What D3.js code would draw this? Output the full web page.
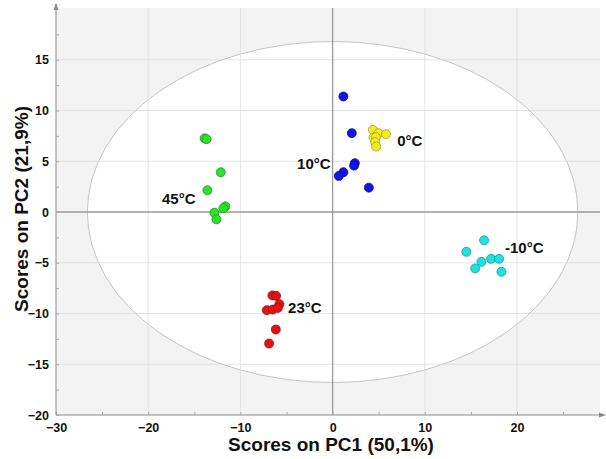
<!DOCTYPE html>
<html><head><meta charset="utf-8">
<script src="https://cdn.jsdelivr.net/npm/d3@7"></script>
<style>
html,body{margin:0;padding:0;background:#fff;}
svg{display:block;font-family:"Liberation Sans",Arial,sans-serif;}
</style></head>
<body><svg id="c" width="606" height="459"></svg>
<script>
const groups = ["45°C","23°C","10°C","0°C","-10°C"];
const colors = ["#2ee02e","#e01414","#1414e6","#f2ee10","#22e0e0"];
const strokes = ["#1c9a1c","#a00c0c","#0c0c9a","#9a9a50","#169a9a"];
const pc1_45 = [-13.88,-13.67,-12.13,-13.58,-11.63,-11.84,-12.82,-12.6];
const pc2_45 = [7.26,7.18,3.92,2.14,0.56,0.37,-0.07,-0.72];
const pc1_23 = [-6.53,-6.13,-5.77,-7.14,-6.49,-5.94,-6.16,-6.89];
const pc2_23 = [-8.22,-8.26,-9.08,-9.67,-9.61,-9.45,-11.58,-12.96];
const pc1_10 = [1.17,2.08,2.41,2.33,1.17,0.67,3.93];
const pc2_10 = [11.38,7.77,4.81,4.57,3.92,3.55,2.4];
const pc1_0 = [4.36,4.97,5.8,4.43,4.69,4.61,4.72];
const pc2_0 = [8.09,7.77,7.67,7.33,7.37,6.88,6.45];
const pc1_m10 = [16.43,14.51,16.14,17.19,18.06,15.46,18.31];
const pc2_m10 = [-2.79,-3.92,-4.91,-4.61,-4.61,-5.56,-5.89];
const labelX = [-18.5,-4.83,-3.85,7.0,18.7];
const labelY = [0.74,-9.97,4.2,6.47,-4.0];
const xTicks = [-30,-20,-10,0,10,20];
const yTicks = [-20,-15,-10,-5,0,5,10,15];
const ellipseR = [26.6,16.8];
const xTitle = "Scores on PC1 (50,1%)";
const yTitle = "Scores on PC2 (21,9%)";

const svg = d3.select("#c");
const x = d3.scaleLinear().domain([-30,29]).range([56,600]);
const y = d3.scaleLinear().domain([-20,20.1]).range([415,8]);

svg.append("rect").attr("x",x(-30)).attr("y",y(20.1)).attr("width",x(29)-x(-30)).attr("height",y(-20)-y(20.1)).attr("fill","#f3f3f3");
svg.append("ellipse").attr("cx",x(0)).attr("cy",y(0))
  .attr("rx",x(ellipseR[0])-x(0)).attr("ry",y(0)-y(ellipseR[1]))
  .attr("fill","#fff").attr("stroke","#c4c4c4").attr("stroke-width",1);
const gy = [-15,-10,-5,5,10,15];
svg.append("g").selectAll("line").data(gy).join("line")
  .attr("x1",x(-30)).attr("x2",x(29)).attr("y1",d=>y(d)).attr("y2",d=>y(d))
  .attr("stroke","#dcdcdc").attr("stroke-width",0.8).attr("opacity",0.9);
const gx = [-20,-10,10,20];
svg.append("g").selectAll("line").data(gx).join("line")
  .attr("y1",y(20.1)).attr("y2",y(-20)).attr("x1",d=>x(d)).attr("x2",d=>x(d))
  .attr("stroke","#dcdcdc").attr("stroke-width",0.8).attr("opacity",0.9);
svg.append("line").attr("x1",x(-30)).attr("x2",x(29)).attr("y1",y(0)).attr("y2",y(0)).attr("stroke","#9a9a9a").attr("stroke-width",1.3);
svg.append("line").attr("x1",x(0)).attr("x2",x(0)).attr("y1",y(20.1)).attr("y2",y(-20)).attr("stroke","#9a9a9a").attr("stroke-width",1.3);

const xAxis = d3.axisBottom(x).tickValues(d3.range(-30,30,5)).tickSize(-3).tickFormat(d=> xTicks.includes(d)? d3.format("d")(d):"").tickPadding(8);
const gxA = svg.append("g").attr("transform",`translate(0,${y(-20)})`).call(xAxis);
gxA.select(".domain").attr("stroke","#8a8a8a").attr("d",`M${x(-30)},0H604`);
gxA.selectAll(".tick line").attr("stroke","#aaa");
gxA.selectAll("text").attr("font-size",12.5).attr("font-weight","bold").attr("fill","#111");
const yAxis = d3.axisLeft(y).tickValues(d3.range(-20,20,2.5)).tickSize(-3).tickFormat(d=> yTicks.includes(d)? d3.format("d")(d):"").tickPadding(7);
const gyA = svg.append("g").attr("transform",`translate(${x(-30)},0)`).call(yAxis);
gyA.select(".domain").attr("stroke","#8a8a8a").attr("d",`M0,${y(-20)}V4`);
gyA.selectAll(".tick line").attr("stroke","#aaa");
gyA.selectAll("text").attr("font-size",12.5).attr("font-weight","bold").attr("fill","#111");
svg.append("path").attr("d",`M${x(-30)},3L${x(-30)-2.5},10L${x(-30)+2.5},10Z`).attr("fill","#8a8a8a");
svg.append("path").attr("d",`M606,${y(-20)}L599,${y(-20)-2.5}L599,${y(-20)+2.5}Z`).attr("fill","#8a8a8a");

const sets = [[pc1_45,pc2_45],[pc1_23,pc2_23],[pc1_10,pc2_10],[pc1_0,pc2_0],[pc1_m10,pc2_m10]];
sets.forEach((s,i)=>{
  const pts = s[0].map((v,j)=>({x:v,y:s[1][j]}));
  svg.append("g").selectAll("circle").data(pts).join("circle")
    .attr("cx",d=>x(d.x)).attr("cy",d=>y(d.y)).attr("r",4.5)
    .attr("fill",colors[i]).attr("stroke",strokes[i]).attr("stroke-width",0.8);
});
svg.append("g").selectAll("text").data(groups).join("text")
  .attr("x",(d,i)=>x(labelX[i])).attr("y",(d,i)=>y(labelY[i]))
  .attr("font-size",15).attr("font-weight","bold").attr("fill","#111").text(d=>d);

svg.append("text").attr("x",331).attr("y",451).attr("text-anchor","middle")
  .attr("font-size",19).attr("font-weight","bold").attr("fill","#111").text(xTitle);
svg.append("text").attr("transform","translate(28,209) rotate(-90)").attr("text-anchor","middle")
  .attr("font-size",19).attr("font-weight","bold").attr("fill","#111").text(yTitle);
</script></body></html>
